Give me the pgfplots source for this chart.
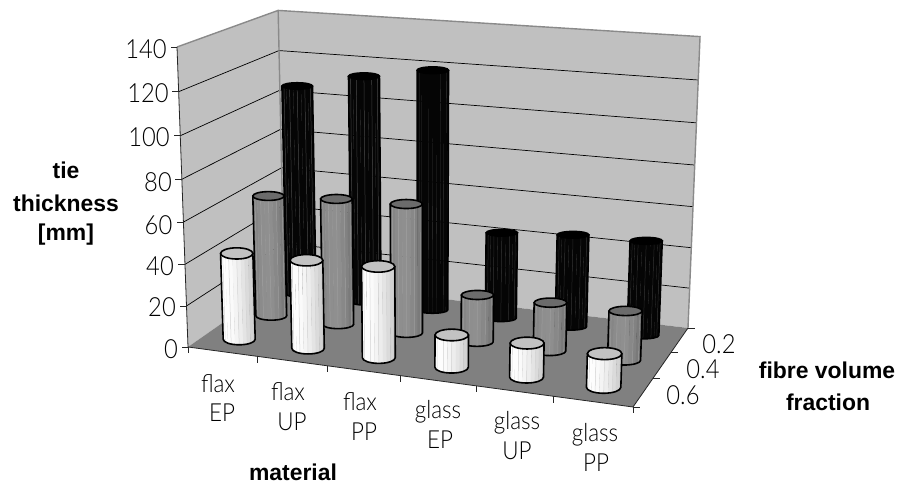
\documentclass[border=0pt]{standalone}
\usepackage{pgfplots}
\usepackage{pgfplotstable}
\usepackage{fontspec}
\pgfplotsset{compat=1.18}
\setmainfont{Lato}[UprightFont=* Light,FakeStretch=0.9]
\newfontfamily\lsb{Liberation Sans}
\definecolor{wallc}{HTML}{C0C0C0}
\definecolor{floorc}{HTML}{808080}
\definecolor{edgec}{HTML}{8A8A8A}

% m = material no. (1..6), f = fibre volume fraction, z = tie thickness [mm], seam = grey of the facet seams
\pgfplotstableread{
m f z seam
1 0.2 106.8 0.24
2 0.2 114.1 0.24
3 0.2 119.4 0.0
4 0.2 43.2 0.16
5 0.2 45.8 0.16
6 0.2 46.5 0.16
}\blackdata
\pgfplotstableread{
m f z seam
1 0.4 60.4 0.62
2 0.4 62.3 0.62
3 0.4 63.2 0.62
4 0.4 23.0 0.62
5 0.4 23.4 0.62
6 0.4 23.6 0.62
}\greydata
\pgfplotstableread{
m f z seam
1 0.6 42.0 0.85
2 0.6 42.5 0.85
3 0.6 43.4 0.85
4 0.6 15.3 0.85
5 0.6 15.9 0.85
6 0.6 15.5 0.85
}\whitedata

\newcommand\cyl[4]{%
  \begingroup
  \pgfkeys{/pgf/fpu=false}%
  \pgfmathsetmacro\cW{wf(\mv,\fv)}%
  \pgfmathsetmacro\cS{sz(\zv)}%
  \pgfmathsetmacro\cdy{\cS*300/\cW}%
  \pgfmathsetmacro\cdx{\cS*(xz(\mv,\fv)-423)*0.0468/\cW}%
  \pgfmathsetmacro\Rb{16.2/\cW}%
  \pgfmathsetmacro\Rt{\Rb*(1+0.03*\cS)}%
  \pgfmathsetmacro\flat{0.38-0.2*cv(\fv)}%
  \pgfmathsetmacro\rb{\flat*\Rb}%
  \pgfmathsetmacro\rt{\flat*\Rt}%
  \foreach \i in {0,...,11}{%
    \pgfmathsetmacro\ta{180+15*\i}%
    \pgfmathsetmacro\tb{\ta+15}%
    \pgfmathsetmacro\oo{cos(\ta+7.5)}%
    \pgfmathsetmacro\g{min(1,max(0,#1+(#2)*\oo+(#3)*\oo*\oo))}%
    \definecolor{cylc}{gray}{\g}%
    \fill[cylc,draw=cylc,line width=0.2bp]
      ({\Rb*cos(\ta)*1bp},{\rb*sin(\ta)*1bp}) --
      ({(\cdx+\Rt*cos(\ta))*1bp},{(\cdy+\rt*sin(\ta))*1bp}) --
      ({(\cdx+\Rt*cos(\tb))*1bp},{(\cdy+\rt*sin(\tb))*1bp}) --
      ({\Rb*cos(\tb)*1bp},{\rb*sin(\tb)*1bp}) -- cycle;
  }%
  \pgfmathparse{\sv>0?1:0}%
  \pgfmathtruncatemacro\hasseam{\pgfmathresult}%
  \ifnum\hasseam=1
    \definecolor{seamc}{gray}{\sv}%
    \foreach \ta in {210,240,270,300,330}{%
      \draw[seamc,line width=0.5bp]
        ({\Rb*cos(\ta)*1bp},{\rb*sin(\ta)*1bp}) --
        ({(\cdx+\Rt*cos(\ta))*1bp},{(\cdy+\rt*sin(\ta))*1bp});
    }%
  \fi
  \draw[black,line width=1.6bp,line join=round]
    ({-\Rb*1bp},0pt) arc[start angle=180,end angle=360,x radius=\Rb bp,y radius=\rb bp]
    -- ({(\cdx+\Rt)*1bp},{\cdy*1bp}) -- ({(\cdx-\Rt)*1bp},{\cdy*1bp}) -- cycle;
  \definecolor{capc}{gray}{#4}%
  \draw[fill=capc,draw=black,line width=1.6bp]
    ({\cdx*1bp},{\cdy*1bp}) ellipse [x radius=\Rt bp,y radius=\rt bp];
  \endgroup
}
\pgfdeclareplotmark{cylblack}{\cyl{0.02}{0}{0}{0}}
\pgfdeclareplotmark{cylgrey}{\cyl{0.56}{-0.03}{-0.09}{0.42}}
\pgfdeclareplotmark{cylwhite}{\cyl{0.945}{-0.11}{-0.055}{0.76}}
\pgfdeclareplotmark{tickz}{\pgfpathmoveto{\pgfqpoint{0pt}{0pt}}\pgfpathlineto{\pgfqpoint{-6.5bp}{0pt}}\pgfusepathqstroke}
\pgfdeclareplotmark{tickx}{\pgfpathmoveto{\pgfqpoint{0pt}{0pt}}\pgfpathlineto{\pgfqpoint{0pt}{-6.5bp}}\pgfusepathqstroke}
\pgfdeclareplotmark{ticky}{\pgfpathmoveto{\pgfqpoint{0pt}{0pt}}\pgfpathlineto{\pgfqpoint{7bp}{0pt}}\pgfusepathqstroke}

\pgfplotsset{
  table/proj/.style={
    x expr={px(\thisrow{m},\thisrow{f},\thisrow{z})},
    y expr={py(\thisrow{m},\thisrow{f},\thisrow{z})}},
  table/projbase/.style={
    x expr={px(\thisrow{m},\thisrow{f},0)},
    y expr={py(\thisrow{m},\thisrow{f},0)}},
  cylseries/.style={scatter,only marks,mark=#1,
    visualization depends on={\thisrow{m}\as\mv},
    visualization depends on={\thisrow{f}\as\fv},
    visualization depends on={\thisrow{z}\as\zv},
    visualization depends on={\thisrow{seam}\as\sv}},
}
\newcommand\dlab[3]{\node[inner sep=0pt,anchor=center,text=black,font={\fontsize{26.5}{28}\selectfont}] at (axis cs:#1,{486-#2}) {#3};}
\newcommand\lab[3]{\node[inner sep=0pt,anchor=center,text=black,font={\fontsize{25}{28}\selectfont}] at (axis cs:#1,{486-#2}) {#3};}
\newcommand\blab[3]{\node[inner sep=0pt,anchor=center,text=black,font={\lsb\bfseries\fontsize{23}{28}\selectfont}] at (axis cs:#1,{486-#2}) {#3};}

\begin{document}
\begin{tikzpicture}[declare function={
  cu(\ma)=(\ma-0.5)/6;
  cv(\fa)=(0.7-\fa)/0.6;
  wf(\ma,\fa)=1-0.08334*cu(\ma)+0.11283*cv(\fa);
  xz(\ma,\fa)=(392.24*cu(\ma)+128.04*cv(\fa)+188)/wf(\ma,\fa);
  yz(\ma,\fa)=(26.08*cu(\ma)-35.41*cv(\fa)+347)/wf(\ma,\fa);
  sz(\za)=(\za/140)*(1-0.05*(1-\za/140));
  px(\ma,\fa,\za)=xz(\ma,\fa)+sz(\za)*(xz(\ma,\fa)-423)*0.0468/wf(\ma,\fa);
  py(\ma,\fa,\za)=486-yz(\ma,\fa)+sz(\za)*300/wf(\ma,\fa);
}]
\begin{axis}[
  scale only axis,width=899bp,height=486bp,
  xmin=0,xmax=899,ymin=0,ymax=486,
  hide axis,clip=false,
]
\path (axis cs:0,0) (axis cs:899,486);
% walls and floor
\addplot[fill=wallc,draw=none] table[proj,row sep=\\]{m f z\\ 0.5 0.7 0\\ 0.5 0.1 0\\ 0.5 0.1 140\\ 0.5 0.7 140\\} -- cycle;
\addplot[fill=wallc,draw=none] table[proj,row sep=\\]{m f z\\ 0.5 0.1 0\\ 6.5 0.1 0\\ 6.5 0.1 140\\ 0.5 0.1 140\\} -- cycle;
\addplot[fill=floorc,draw=none] table[proj,row sep=\\]{m f z\\ 0.5 0.7 0\\ 6.5 0.7 0\\ 6.5 0.1 0\\ 0.5 0.1 0\\} -- cycle;
% grid
\pgfplotsinvokeforeach{20,40,60,80,100,120}{
  \addplot[black,line width=0.7bp] table[proj,row sep=\\]{m f z\\ 0.5 0.7 #1\\ 0.5 0.1 #1\\ 6.5 0.1 #1\\};
}
% wall edges
\addplot[edgec,line width=1.4bp] table[proj,row sep=\\]{m f z\\ 0.5 0.7 140\\ 0.5 0.1 140\\ 6.5 0.1 140\\ 6.5 0.1 0\\};
\addplot[edgec,line width=1.4bp] table[proj,row sep=\\]{m f z\\ 0.5 0.1 140\\ 0.5 0.1 0\\};
% axis lines
\addplot[black!85,line width=0.8bp] table[proj,row sep=\\]{m f z\\ 0.5 0.7 140\\ 0.5 0.7 0\\ 6.5 0.7 0\\ 6.5 0.1 0\\};
% ticks
\addplot[only marks,mark=tickz,black!85,line width=0.8bp] table[proj,row sep=\\]{m f z\\ 0.5 0.7 0\\ 0.5 0.7 20\\ 0.5 0.7 40\\ 0.5 0.7 60\\ 0.5 0.7 80\\ 0.5 0.7 100\\ 0.5 0.7 120\\ 0.5 0.7 140\\};
\addplot[only marks,mark=tickx,black!85,line width=0.8bp] table[proj,row sep=\\]{m f z\\ 0.5 0.7 0\\ 1.5 0.7 0\\ 2.5 0.7 0\\ 3.5 0.7 0\\ 4.5 0.7 0\\ 5.5 0.7 0\\ 6.5 0.7 0\\};
\addplot[only marks,mark=ticky,black!85,line width=0.8bp] table[proj,row sep=\\]{m f z\\ 6.5 0.1 0\\ 6.5 0.3 0\\ 6.5 0.5 0\\ 6.5 0.7 0\\};
% cylinders, back row first
\addplot[cylseries=cylblack] table[projbase] {\blackdata};
\addplot[cylseries=cylgrey] table[projbase] {\greydata};
\addplot[cylseries=cylwhite] table[projbase] {\whitedata};
% labels
\dlab{146}{49}{140}
\dlab{148}{93}{120}
\dlab{149}{137}{100}
\dlab{158}{182}{80}
\dlab{158.5}{225}{60}
\dlab{160}{266}{40}
\dlab{162}{307}{20}
\dlab{171}{349}{0}
\lab{218}{384}{flax}
\lab{222}{413}{EP}
\lab{288}{392}{flax}
\lab{292}{422}{UP}
\lab{360}{402}{flax}
\lab{364}{432}{PP}
\lab{438}{412}{glass}
\lab{440}{440}{EP}
\lab{517}{423}{glass}
\lab{517}{451}{UP}
\lab{595}{435}{glass}
\lab{596}{463}{PP}
\dlab{719}{344}{0.2}
\dlab{703}{369}{0.4}
\dlab{683}{395}{0.6}
\blab{66}{170}{tie}
\blab{66}{203}{thickness}
\blab{66}{235}{[mm]}
\blab{293}{472.5}{material}
\blab{827}{370}{fibre volume}
\blab{828}{402}{fraction}
\end{axis}
\end{tikzpicture}
\end{document}
